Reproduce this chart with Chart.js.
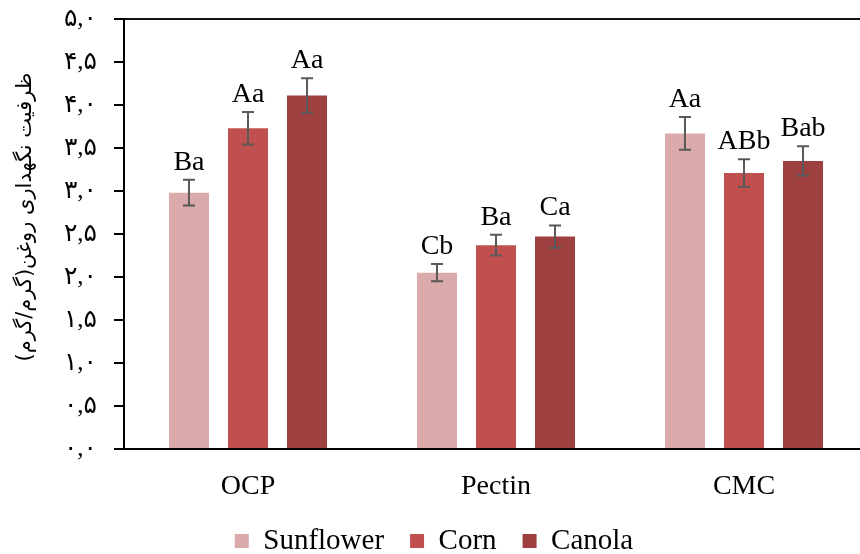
<!DOCTYPE html>
<html>
<head>
<meta charset="utf-8">
<script src="https://cdn.jsdelivr.net/npm/chart.js@4.4.1/dist/chart.umd.min.js"></script>
<style>
  html, body { margin: 0; padding: 0; background: #fff; overflow: hidden; }
  #wrap { width: 870px; height: 554px; }
</style>
</head>
<body>
<div id="wrap"><canvas id="chart" width="870" height="554"></canvas></div>
<script>
// Oil holding capacity (g/g) per hydrocolloid and oil type
const categories = ['OCP', 'Pectin', 'CMC'];
const seriesNames = ['Sunflower', 'Corn', 'Canola'];

const sunflower = [2.98, 2.05, 3.67];
const corn      = [3.73, 2.37, 3.21];
const canola    = [4.11, 2.47, 3.35];

const sunflowerErr = [0.15, 0.10, 0.19];
const cornErr      = [0.19, 0.12, 0.16];
const canolaErr    = [0.20, 0.13, 0.17];

const sunflowerLetters = ['Ba', 'Cb', 'Aa'];
const cornLetters      = ['Aa', 'Ba', 'ABb'];
const canolaLetters    = ['Aa', 'Ca', 'Bab'];

const yTickLabels = ['۰,۰', '۰,۵', '۱,۰', '۱,۵', '۲,۰', '۲,۵', '۳,۰', '۳,۵', '۴,۰', '۴,۵', '۵,۰'];
const yTitle = 'ظرفیت نگهداری روغن(گرم/گرم)\u200F';

const colors = ['#DBAAAA', '#C0504D', '#9E403F'];
const serif = '"Liberation Serif", "Times New Roman", serif';
const tickFont = '"Liberation Serif", "DejaVu Sans", serif';

// Error whiskers and significance letters on top of each bar
const errorBarPlugin = {
  id: 'errorBars',
  afterDatasetsDraw(chart) {
    const ctx = chart.ctx;
    const y = chart.scales.y;
    chart.data.datasets.forEach((ds, di) => {
      const meta = chart.getDatasetMeta(di);
      meta.data.forEach((bar, i) => {
        const v = ds.data[i], e = ds.errors[i];
        const top = y.getPixelForValue(v + e);
        const bot = y.getPixelForValue(v - e);
        ctx.save();
        ctx.strokeStyle = '#595959';
        ctx.lineWidth = 2;
        ctx.beginPath();
        ctx.moveTo(bar.x, top); ctx.lineTo(bar.x, bot);
        ctx.moveTo(bar.x - 6, top); ctx.lineTo(bar.x + 6, top);
        ctx.moveTo(bar.x - 6, bot); ctx.lineTo(bar.x + 6, bot);
        ctx.stroke();
        ctx.fillStyle = '#000';
        ctx.font = '28px ' + serif;
        ctx.textAlign = 'center';
        ctx.textBaseline = 'alphabetic';
        ctx.fillText(ds.letters[i], bar.x, top - 10);
        ctx.restore();
      });
    });
  }
};

// Rotated Persian axis title
const yTitlePlugin = {
  id: 'yTitle',
  afterDraw(chart) {
    const ctx = chart.ctx;
    ctx.save();
    ctx.translate(26, 217);
    ctx.rotate(-Math.PI / 2);
    ctx.fillStyle = '#000';
    ctx.font = '21px "DejaVu Sans", sans-serif';
    ctx.textAlign = 'center';
    ctx.textBaseline = 'middle';
    ctx.fillText(yTitle, 0, 0);
    ctx.restore();
  }
};

const seriesData = [sunflower, corn, canola];
const seriesErr = [sunflowerErr, cornErr, canolaErr];
const seriesLetters = [sunflowerLetters, cornLetters, canolaLetters];

new Chart(document.getElementById('chart'), {
  type: 'bar',
  data: {
    labels: categories,
    datasets: seriesNames.map((name, i) => ({
      label: name,
      data: seriesData[i],
      errors: seriesErr[i],
      letters: seriesLetters[i],
      backgroundColor: colors[i],
      borderWidth: 0,
      categoryPercentage: 0.714,
      barPercentage: 0.678
    }))
  },
  options: {
    responsive: false,
    animation: false,
    layout: { padding: { left: 0, right: 2, top: 19, bottom: -11.5 } },
    plugins: {
      legend: {
        position: 'bottom',
        labels: {
          boxWidth: 14,
          boxHeight: 14,
          padding: 26,
          color: '#000',
          font: { family: serif, size: 29, lineHeight: 1 }
        }
      },
      tooltip: { enabled: false }
    },
    scales: {
      x: {
        grid: { display: false, drawTicks: false },
        border: { color: '#000', width: 2 },
        ticks: { color: '#000', padding: 21, font: { family: serif, size: 28 } },
        afterFit(scale) { scale.height = 51.5; }
      },
      y: {
        min: 0,
        max: 5,
        ticks: {
          stepSize: 0.5,
          padding: 17,
          color: '#000',
          font: { family: tickFont, size: 25 },
          callback: (v, i) => yTickLabels[i]
        },
        grid: {
          drawOnChartArea: true,
          color: ctx => (ctx.tick && ctx.tick.value === 5) ? '#111' : 'rgba(0,0,0,0)',
          tickColor: '#000',
          tickLength: 10,
          lineWidth: 2
        },
        border: { color: '#000', width: 2 },
        afterFit(scale) {
          scale.width = 124;
          scale.paddingTop = 0;
          scale.paddingBottom = 0;
        }
      }
    }
  },
  plugins: [errorBarPlugin, yTitlePlugin]
});
</script>
</body>
</html>
